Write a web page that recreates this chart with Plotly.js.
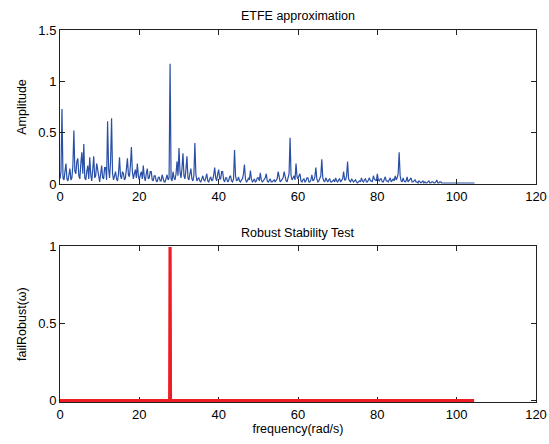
<!DOCTYPE html>
<html>
<head>
<meta charset="utf-8">
<script src="https://cdn.plot.ly/plotly-3.0.1.min.js"></script>
<style>html,body{margin:0;padding:0;background:#fff;}#chart{width:549px;height:444px;}</style>
</head>
<body>
<div id="chart"></div>
<script>
// ETFE amplitude, sampled every 0.25 rad/s starting at 0 (one row = 5 rad/s)
const etfeStart = 0;
const etfeStep = 0.25;
const etfeAmplitude = [
  0.05,0.12,0.73,0.06,0.04,0.15,0.20,0.05,0.03,0.09,0.15,0.04,0.06,0.18,0.52,0.12,0.10,0.22,0.25,0.08,
  0.05,0.20,0.31,0.10,0.39,0.06,0.04,0.12,0.18,0.05,0.26,0.09,0.03,0.14,0.27,0.06,0.08,0.20,0.12,0.04,
  0.02,0.10,0.18,0.06,0.05,0.16,0.16,0.04,0.61,0.15,0.06,0.22,0.64,0.10,0.04,0.08,0.12,0.05,0.03,0.10,
  0.26,0.08,0.05,0.12,0.10,0.04,0.06,0.15,0.25,0.09,0.07,0.18,0.36,0.12,0.05,0.10,0.14,0.06,0.20,0.08,
  0.04,0.09,0.12,0.05,0.18,0.07,0.03,0.10,0.15,0.05,0.06,0.12,0.12,0.04,0.03,0.08,0.08,0.03,0.02,0.06,
  0.07,0.03,0.03,0.09,0.06,0.02,0.02,0.05,0.09,0.04,0.06,1.17,0.05,0.03,0.12,0.06,0.04,0.10,0.22,0.08,
  0.35,0.12,0.06,0.15,0.30,0.08,0.05,0.14,0.27,0.06,0.04,0.10,0.15,0.05,0.03,0.08,0.40,0.10,0.03,0.05,
  0.06,0.03,0.02,0.05,0.08,0.04,0.03,0.06,0.10,0.03,0.02,0.05,0.07,0.03,0.04,0.09,0.16,0.06,0.03,0.10,
  0.14,0.05,0.05,0.12,0.12,0.04,0.02,0.06,0.06,0.02,0.03,0.07,0.08,0.03,0.02,0.05,0.33,0.08,0.03,0.04,
  0.07,0.03,0.02,0.04,0.05,0.10,0.19,0.05,0.02,0.03,0.06,0.04,0.13,0.05,0.02,0.03,0.05,0.02,0.03,0.06,
  0.06,0.03,0.11,0.04,0.02,0.03,0.04,0.06,0.10,0.03,0.02,0.04,0.05,0.02,0.02,0.03,0.04,0.02,0.03,0.05,
  0.12,0.04,0.02,0.03,0.04,0.06,0.12,0.05,0.03,0.02,0.05,0.10,0.45,0.08,0.04,0.06,0.08,0.04,0.20,0.07,
  0.05,0.08,0.10,0.03,0.02,0.04,0.05,0.02,0.03,0.06,0.06,0.02,0.02,0.04,0.09,0.03,0.04,0.07,0.16,0.05,
  0.02,0.03,0.05,0.08,0.24,0.06,0.03,0.02,0.06,0.03,0.02,0.04,0.05,0.02,0.02,0.03,0.04,0.02,0.06,0.03,
  0.02,0.04,0.05,0.02,0.03,0.05,0.12,0.04,0.04,0.08,0.22,0.05,0.03,0.02,0.05,0.03,0.02,0.03,0.04,0.02,
  0.01,0.02,0.03,0.02,0.06,0.03,0.02,0.04,0.05,0.02,0.02,0.04,0.06,0.03,0.03,0.02,0.08,0.05,0.04,0.03,
  0.10,0.04,0.03,0.05,0.05,0.02,0.02,0.04,0.07,0.03,0.03,0.02,0.04,0.06,0.02,0.03,0.05,0.03,0.08,0.04,
  0.06,0.10,0.31,0.08,0.03,0.02,0.06,0.03,0.02,0.03,0.07,0.02,0.03,0.04,0.06,0.02,0.02,0.03,0.04,0.02,
  0.02,0.01,0.03,0.02,0.01,0.02,0.03,0.01,0.02,0.01,0.01,0.02,0.03,0.01,0.01,0.02,0.02,0.01,0.01,0.02,
  0.04,0.01,0.01,0.02,0.02,0.01,0.01,0.01,0.01,0.01,0.01,0.01,0.01,0.01,0.01,0.01,0.01,0.01,0.01,0.01,
  0.01,0.01,0.01,0.01,0.01,0.01,0.01,0.01,0.01,0.01,0.01,0.01,0.01,0.01,0.01,0.01,0.01,0.01,0.01
];

// Robust stability test result
const robustFreq = [0, 27.65, 27.75, 27.85, 104.4];
const failRobust = [0, 0, 1, 0, 0];

const xTicks = [0, 20, 40, 60, 80, 100, 120];
const yTicksTop = [0, 0.5, 1, 1.5];
const yTickTextTop = ['0', '0.5', '1', '1.5'];
const yTicksBottom = [0, 0.5, 1];

const titles = ['ETFE approximation', 'Robust Stability Test'];

const FONT = 'Liberation Sans, Arial, sans-serif';

const axisCommon = {
  showline: true, mirror: 'ticks', linecolor: '#222', linewidth: 1,
  ticks: 'inside', ticklen: 5, tickcolor: '#222', tickwidth: 1,
  showgrid: false, zeroline: false,
  tickfont: {family: FONT, size: 13, color: '#000'}
};

const traces = [
  {x0: etfeStart, dx: etfeStep, y: etfeAmplitude, type: 'scatter', mode: 'lines',
   line: {color: '#2a4fa6', width: 1.2}, xaxis: 'x', yaxis: 'y', hoverinfo: 'skip'},
  {x: robustFreq, y: failRobust, type: 'scatter', mode: 'lines',
   line: {color: '#ee1c25', width: 3.2}, xaxis: 'x2', yaxis: 'y2', hoverinfo: 'skip'}
];

const layout = {
  width: 549, height: 444,
  margin: {l: 60, r: 13, t: 30, b: 42},
  paper_bgcolor: '#fff', plot_bgcolor: '#fff',
  showlegend: false,
  font: {family: FONT, size: 12, color: '#000'},
  xaxis: Object.assign({}, axisCommon, {domain: [0, 1], range: [0, 120], tickvals: xTicks, anchor: 'y'}),
  yaxis: Object.assign({}, axisCommon, {domain: [0.586, 1], range: [0, 1.5], tickvals: yTicksTop, ticktext: yTickTextTop, anchor: 'x',
    title: {text: 'Amplitude', font: {family: FONT, size: 12.5, color: '#000'}, standoff: 8}}),
  xaxis2: Object.assign({}, axisCommon, {domain: [0, 1], range: [0, 120], tickvals: xTicks, anchor: 'y2', layer: 'below traces',
    title: {text: 'frequency(rad/s)', font: {family: FONT, size: 12.5, color: '#000'}, standoff: 3}}),
  yaxis2: Object.assign({}, axisCommon, {domain: [0, 0.419], range: [-0.009, 1.005], tickvals: yTicksBottom, anchor: 'x2', layer: 'below traces',
    title: {text: 'failRobust(ω)', font: {family: FONT, size: 12.5, color: '#000'}, standoff: 8}}),
  annotations: [
    {text: titles[0], xref: 'paper', yref: 'paper', x: 0.5, y: 1, yshift: 5, xanchor: 'center', yanchor: 'bottom',
     showarrow: false, font: {family: FONT, size: 12.5, color: '#000'}},
    {text: titles[1], xref: 'paper', yref: 'paper', x: 0.5, y: 0.419, yshift: 4, xanchor: 'center', yanchor: 'bottom',
     showarrow: false, font: {family: FONT, size: 12.5, color: '#000'}}
  ]
};

Plotly.newPlot('chart', traces, layout, {displayModeBar: false, staticPlot: true});
</script>
</body>
</html>
